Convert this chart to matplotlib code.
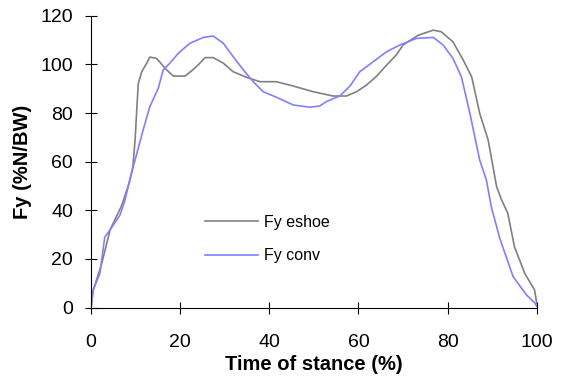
import numpy as np
import matplotlib.pyplot as plt

plt.rcParams['font.family'] = ['Liberation Sans', 'DejaVu Sans']

# Fy eshoe (gray)
x_eshoe = [0, 0.5, 2.4, 4.3, 6.9, 8.7, 9.4, 9.9, 10.6, 11.4, 12.5, 13.2, 14.7, 17, 18.5,
           21.1, 22.6, 24, 25.6, 27.4, 29.7, 31.9, 34.9, 37.9, 41.6, 45.4, 49.8, 54.3,
           57.3, 59.6, 61.8, 64.1, 66.3, 68.5, 70, 73.4, 76.8, 78.6, 81.2, 83.5, 85.4,
           87.2, 89.1, 91, 92.1, 93.5, 95, 97.3, 99.5, 100]
y_eshoe = [0, 7, 18, 32, 42, 52, 58, 69, 92, 97, 100.5, 103, 102.5, 97.7, 95.2,
           95.2, 97.4, 99.7, 102.8, 102.8, 100.5, 97, 94.7, 92.9, 92.9, 91.1, 88.8, 87,
           87, 88.8, 91.5, 95.2, 99.7, 103.9, 108, 112, 114.1, 113.4, 109.3, 101.8, 94.9,
           79.9, 68.9, 49.7, 44.3, 38.8, 25, 14.1, 7.3, 1.8]

# Fy conv (blue)
x_conv = [0, 0.5, 2, 3.1, 4.3, 6.5, 7.6, 8.7, 9.5, 11.7, 13.2, 15.1, 16.2, 17.7, 19.6,
          22.2, 25.2, 27.4, 29.7, 31.9, 34.2, 36.4, 38.6, 41.6, 45.4, 49.1, 51.3, 52.8,
          55.8, 58.1, 60.3, 63.3, 66.3, 69.3, 73, 76.8, 79, 81.2, 83.1, 85, 87.2, 88.7,
          89.8, 91.7, 94.7, 97.7, 99.6, 100]
y_conv = [0, 7.3, 14, 29, 32, 38, 44, 52.5, 58, 73, 82.6, 90.2, 97.7, 100.5, 104.6,
          108.7, 111.1, 111.7, 108.7, 103.2, 97.7, 92.9, 88.8, 86.5, 83.3, 82.4, 82.9, 84.7,
          87, 91.1, 97, 101.1, 105.2, 108, 110.7, 111.1, 108, 102.5, 94.9, 79.9, 60.7, 52.5,
          41.5, 28.5, 12.7, 5.2, 1.8, 0.5]

fig = plt.figure(figsize=(5.65, 3.76), dpi=100)
ax = fig.add_axes([0.161, 0.182, 0.789, 0.776])

ax.plot(x_eshoe, y_eshoe, color='#808080', lw=1.2, label='Fy eshoe')
ax.plot(x_conv, y_conv, color='#8080ff', lw=1.2, label='Fy conv')

ax.set_xlim(0, 100)
ax.set_ylim(0, 120)
ax.set_xticks(np.arange(0, 101, 20))
ax.set_yticks(np.arange(0, 121, 20))
for s in ['top', 'right']:
    ax.spines[s].set_visible(False)
for s in ['left', 'bottom']:
    ax.spines[s].set_linewidth(0.8)
ax.tick_params(direction='inout', length=8, width=0.8, labelsize=14)
ax.tick_params(axis='x', pad=15)
ax.tick_params(axis='y', pad=9)

ax.set_xlabel('Time of stance (%)', fontsize=14.5, fontweight='bold', labelpad=3)
ax.set_ylabel('Fy (%N/BW)', fontsize=14.5, fontweight='bold', labelpad=6)

ax.legend(loc='center left', bbox_to_anchor=(205 / 565, 1 - 239 / 376),
          bbox_transform=fig.transFigure, frameon=False, fontsize=11.5,
          handlelength=3.3, handletextpad=0.4, labelspacing=1.15,
          borderpad=0, borderaxespad=0)

fig.savefig('out.png', dpi=100)
